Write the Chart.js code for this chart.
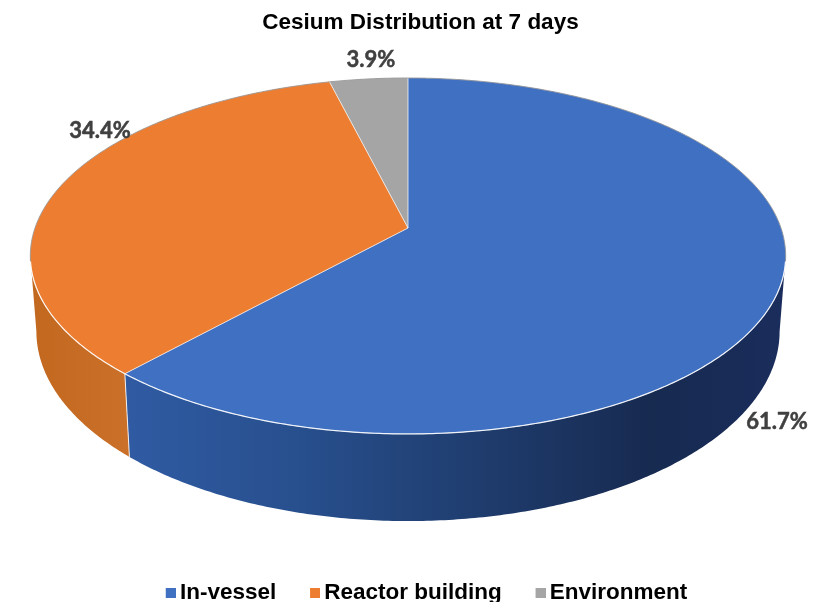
<!DOCTYPE html>
<html>
<head>
<meta charset="utf-8">
<style>
html, body { margin: 0; padding: 0; background: #fff; overflow: hidden; }
canvas { display: block; }
</style>
<script src="https://cdn.jsdelivr.net/npm/chart.js@4"></script>
</head>
<body>
<canvas id="myChart" width="815" height="602"></canvas>
<script>
const titleText = "Cesium Distribution at 7 days";
const categories = ["In-vessel", "Reactor building", "Environment"];
const shares = [61.7, 34.4, 3.9];
const sliceColors = ["#4070c2", "#ed7d31", "#a5a5a5"];

// the original is a perspective 3D pie, so the arcs get projected by hand
const topPlane = { x: 408, y: 228, a: 373, b: 173.6, k: 0.157 };
const lowPlane = { x: 408, y: 301.6, a: 367, b: 185, k: 0.157 };
const labelSpots = [[777, 422], [100, 131], [371, 60]];

function project(plane, angle) {
    const u = Math.cos(angle), v = Math.sin(angle);
    const w = 1 - plane.k * v;
    return [plane.x + plane.a * u / w, plane.y + plane.b * v / w];
}

function rimPoints(plane, start, end) {
    const pts = [];
    const steps = Math.max(2, Math.ceil((end - start) / 0.01));
    for (let i = 0; i <= steps; i++) {
        pts.push(project(plane, start + (end - start) * i / steps));
    }
    return pts;
}

function strokeRim(ctx, pts, color, width) {
    ctx.beginPath();
    pts.forEach((p, n) => n ? ctx.lineTo(p[0], p[1]) : ctx.moveTo(p[0], p[1]));
    ctx.strokeStyle = color;
    ctx.lineWidth = width;
    ctx.stroke();
}

function sideGradient(ctx, index) {
    if (index === 0) {
        const g = ctx.createLinearGradient(125, 0, 785, 0);
        g.addColorStop(0, "#305ba3");
        g.addColorStop(0.25, "#28508f");
        g.addColorStop(0.5, "#203f72");
        g.addColorStop(0.8, "#172a50");
        g.addColorStop(1, "#1a2d5c");
        return g;
    }
    if (index === 1) {
        const g = ctx.createLinearGradient(35, 0, 130, 0);
        g.addColorStop(0, "#c2681f");
        g.addColorStop(1, "#cb7029");
        return g;
    }
    return "#7c7c7c";
}

// legend marker: the canvas is wider than the square so the text sits closer
function legendMarker(color) {
    const c = document.createElement("canvas");
    c.width = 15;
    c.height = 10;
    const x = c.getContext("2d");
    x.fillStyle = color;
    x.fillRect(5, 0, 10, 10);
    return c;
}

const pie3d = {
    id: "pie3d",
    afterLayout(chart) {
        chart.titleBlock.left += 13;
        chart.titleBlock.right += 13;
        chart.legend.left += 20;
        chart.legend.right += 20;
        chart.legend.top = 546;
    },
    beforeDatasetsDraw(chart) {
        const ctx = chart.ctx;
        const arcs = chart.getDatasetMeta(0).data;
        ctx.save();

        // walls first, only the front between the two side extremes can be seen
        const edge = Math.asin(topPlane.k);
        arcs.forEach((arc, i) => {
            const start = Math.max(arc.startAngle, edge);
            const end = Math.min(arc.endAngle, Math.PI - edge);
            if (end <= start) return;
            const up = rimPoints(topPlane, start, end);
            const low = rimPoints(lowPlane, start, end);
            ctx.beginPath();
            for (let n = 0; n < up.length - 1; n++) {
                ctx.moveTo(up[n][0], up[n][1]);
                ctx.lineTo(up[n + 1][0], up[n + 1][1]);
                ctx.lineTo(low[n + 1][0], low[n + 1][1]);
                ctx.lineTo(low[n][0], low[n][1]);
                ctx.closePath();
            }
            ctx.fillStyle = sideGradient(ctx, i);
            ctx.fill();
        });

        // seam between the blue and orange walls
        const seam = arcs[0].endAngle;
        const s1 = project(topPlane, seam), s2 = project(lowPlane, seam);
        strokeRim(ctx, [s1, s2], "rgba(255,255,255,0.85)", 1);

        // top face
        arcs.forEach((arc, i) => {
            const pts = rimPoints(topPlane, arc.startAngle, arc.endAngle);
            ctx.beginPath();
            ctx.moveTo(topPlane.x, topPlane.y);
            pts.forEach(p => ctx.lineTo(p[0], p[1]));
            ctx.closePath();
            ctx.fillStyle = sliceColors[i];
            ctx.fill();
        });
        arcs.forEach(arc => {
            const pts = rimPoints(topPlane, arc.startAngle, arc.endAngle);
            ctx.beginPath();
            ctx.moveTo(topPlane.x, topPlane.y);
            pts.forEach(p => ctx.lineTo(p[0], p[1]));
            ctx.closePath();
            ctx.strokeStyle = "rgba(255,255,255,0.5)";
            ctx.lineWidth = 0.8;
            ctx.stroke();
        });

        // rim: grey at the back, white at the front
        strokeRim(ctx, rimPoints(topPlane, Math.PI * 0.94, Math.PI * 2.06), "rgba(110,110,110,0.6)", 1);
        strokeRim(ctx, rimPoints(topPlane, Math.PI * 0.06, Math.PI * 0.94), "rgba(255,255,255,0.85)", 1.2);

        // value labels
        ctx.fillStyle = "#404040";
        ctx.strokeStyle = "#404040";
        ctx.lineWidth = 0.5;
        ctx.font = "bold 22px Lato";
        ctx.textAlign = "center";
        ctx.textBaseline = "middle";
        shares.forEach((s, i) => {
            const txt = s.toFixed(1) + "%";
            ctx.fillText(txt, labelSpots[i][0], labelSpots[i][1]);
            ctx.strokeText(txt, labelSpots[i][0], labelSpots[i][1]);
        });
        ctx.restore();
        return false;
    }
};

new Chart(document.getElementById("myChart").getContext("2d"), {
    type: "pie",
    data: {
        labels: categories,
        datasets: [{ data: shares, backgroundColor: sliceColors, borderWidth: 0 }]
    },
    options: {
        responsive: false,
        animation: false,
        plugins: {
            title: {
                display: true,
                text: titleText,
                color: "#000",
                font: { family: "Liberation Sans", size: 22.5, weight: "bold" },
                padding: { top: 9, bottom: 0 }
            },
            legend: {
                position: "bottom",
                labels: {
                    color: "#000",
                    font: { family: "Liberation Sans", size: 22.5, weight: "bold" },
                    usePointStyle: true,
                    pointStyleWidth: 1,
                    boxHeight: 11,
                    padding: 35.75,
                    generateLabels(chart) {
                        return categories.map((name, i) => ({
                            text: name,
                            fontColor: "#000",
                            fillStyle: sliceColors[i],
                            lineWidth: 0,
                            pointStyle: legendMarker(sliceColors[i]),
                            index: i
                        }));
                    }
                }
            },
            tooltip: { enabled: false }
        }
    },
    plugins: [pie3d]
});
</script>
</body>
</html>
